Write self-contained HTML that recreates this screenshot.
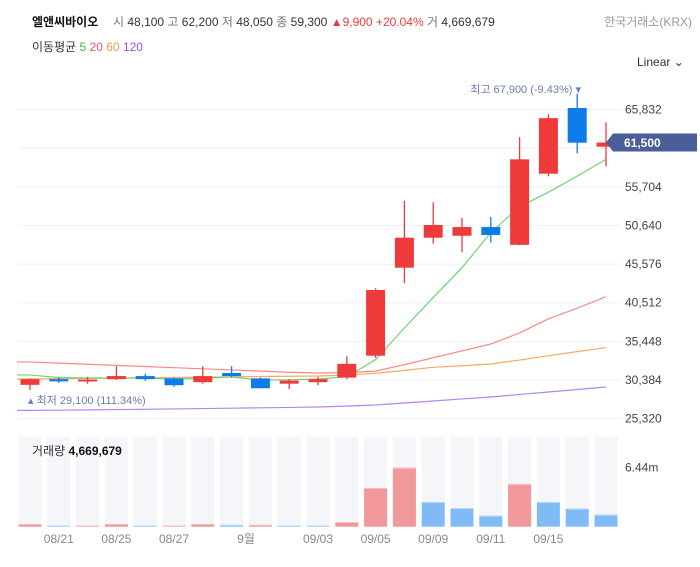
<!DOCTYPE html>
<html><head><meta charset="utf-8">
<style>
body{margin:0;width:700px;height:567px;background:#fff;overflow:hidden;font-family:"Liberation Sans","Noto Sans CJK KR",sans-serif;}
svg{position:absolute;left:0;top:0}
</style></head><body>
<svg id="chart" width="700" height="567" viewBox="0 0 700 567">
<g font-size="12">
<text x="32" y="26" font-weight="bold" fill="#111">엘앤씨바이오</text>
<text x="113" y="26" fill="#333"><tspan fill="#777">시</tspan> 48,100 <tspan fill="#777">고</tspan> 62,200 <tspan fill="#777">저</tspan> 48,050 <tspan fill="#777">종</tspan> 59,300<tspan fill="#e83c3c"> ▲9,900 +20.04%</tspan> <tspan fill="#777">거</tspan> 4,669,679</text>
<text x="692" y="26" fill="#999" text-anchor="end">한국거래소(KRX)</text>
<text x="32" y="51" fill="#333">이동평균 <tspan fill="#3cb83c">5</tspan> <tspan fill="#f0506e">20</tspan> <tspan fill="#f59a4a">60</tspan> <tspan fill="#8a55e6">120</tspan></text>
<text x="637" y="66" fill="#333">Linear ⌄</text>
</g>
<g id="grid"></g><g id="vol"></g><g id="ma"></g><g id="candles"></g><g id="labels"></g>
</svg>
<script>
const dates=["08/21","08/25","08/27","9월","09/03","09/05","09/09","09/11","09/15"];
const dateIdx=[1,3,5,7.5,10,12,14,16,18];
const open=[29750,30500,30200,30500,30900,30600,30100,31300,30600,29900,30100,30700,33570,45100,49030,49290,50430,48100,57420,66030,60960];
const high=[30600,30700,30800,32200,31200,30700,32200,32200,30700,30500,30800,33500,42400,53880,53670,51610,51750,62200,65200,67900,64150];
const low=[29100,30000,29900,30400,30300,29500,29900,30700,29300,29200,29700,30500,33300,43060,48250,47120,48420,48050,57080,60090,58390];
const close=[30500,30200,30450,30900,30500,29700,30900,30900,29300,30300,30500,32500,42180,49030,50700,50430,49390,59300,64700,61480,61500];
const volume=[0.3,0.07,0.07,0.3,0.07,0.07,0.3,0.2,0.2,0.07,0.07,0.51,4.22,6.44,2.7,2.04,1.2,4.67,2.7,1.98,1.31];
const volumeUp=[1,0,1,1,0,1,1,0,1,0,0,1,1,1,0,0,0,1,0,0,0];
const ma5=[31050,30700,30650,30650,30650,30520,30600,30780,30400,30400,30520,30800,33050,37200,41200,45100,49700,53100,55000,57100,59300];
const ma20=[32750,32600,32450,32300,32150,32000,31850,31700,31550,31400,31300,31350,31550,32400,33300,34200,35100,36550,38400,39800,41300];
const ma60=[30520,30560,30600,30640,30680,30720,30760,30800,30840,30880,30910,31040,31260,31650,32050,32250,32480,33000,33570,34100,34620];
const ma120=[26400,26430,26470,26510,26550,26590,26640,26690,26740,26790,26850,26960,27110,27370,27630,27900,28160,28490,28810,29140,29470];
const priceTicks=[65832,60768,55704,50640,45576,40512,35448,30384,25320];
const priceTickLabels=["65,832","","55,704","50,640","45,576","40,512","35,448","30,384","25,320"];
const NS="http://www.w3.org/2000/svg";
function X(i){return 30+28.8*i;}
function Y(v){return 109.5+(65832-v)*0.007631;}
function VY(v){return 526.7-v*59/6.44;}
function mk(p,t,a){const e=document.createElementNS(NS,t);for(const k in a)e.setAttribute(k,a[k]);p.appendChild(e);return e;}
const grid=document.getElementById('grid'),vol=document.getElementById('vol'),ma=document.getElementById('ma'),cg=document.getElementById('candles'),lb=document.getElementById('labels');
priceTicks.forEach((v,k)=>{
 const l=mk(grid,'line',{x1:18,x2:621,y1:Y(v),y2:Y(v),stroke:'#eef0f3','stroke-width':1});
 
 
 if(priceTickLabels[k]){const t=mk(grid,'text',{x:625,y:Y(v)+4,'font-size':12,fill:'#444'});t.textContent=priceTickLabels[k];
 
 }
});
volume.forEach((v,i)=>{
 const bg=mk(vol,'rect',{x:X(i)-11.5,y:436.7,width:23,height:90,fill:'#f5f6fa'});
 
 
 const up=volumeUp[i]===1;
 const h=Math.max(1,526.7-VY(v));
 const r=mk(vol,'rect',{x:X(i)-11.5,y:526.7-h,width:23,height:h,fill:up?'#f0989a':'#80bbf6'});
 
 
 const tp=mk(vol,'rect',{x:X(i)-11.5,y:526.7-h,width:23,height:1,fill:up?'#f7c0c2':'#b8d8fa'});
 
 
});
const vt=mk(vol,'text',{x:625,y:VY(6.44)+4,'font-size':12,fill:'#444'});vt.textContent='6.44m';


const vl=mk(vol,'text',{x:32,y:455,'font-size':12,fill:'#333'});vl.innerHTML='거래량 <tspan font-weight="bold" fill="#111">4,669,679</tspan>';


dates.forEach((d,k)=>{const t=mk(lb,'text',{x:X(dateIdx[k]),y:543,'font-size':12,fill:'#888','text-anchor':'middle'});t.textContent=d;
 
 });
[[ma120,'#b784f5','ma120-line'],[ma60,'#f8a866','ma60-line'],[ma20,'#f58a8a','ma20-line'],[ma5,'#6fd36f','ma5-line']].forEach(([arr,c,n])=>{
 let d='M'+(X(0)-13)+' '+Y(arr[0]);arr.forEach((v,i)=>d+=' L'+X(i)+' '+Y(v));
 const p=mk(ma,'path',{d:d,fill:'none',stroke:c,'stroke-width':1.2});
 
 
});
open.forEach((o,i)=>{
 const up=close[i]>=o,c=up?'#ee3a3a':'#0e7bea';
 const w=mk(cg,'line',{x1:X(i),x2:X(i),y1:Y(high[i]),y2:Y(low[i]),stroke:c,'stroke-width':1.3});
 
 
 const t=Y(Math.max(o,close[i])),b=Y(Math.min(o,close[i]));
 const r=mk(cg,'rect',{x:X(i)-9.5,y:t,width:19,height:Math.max(2,b-t),fill:c});
 
 
});
const last=close[close.length-1];
const tag=mk(lb,'path',{d:`M613 ${Y(last)-9} H697 V${Y(last)+9} H613 L606 ${Y(last)} Z`,fill:'#4a5e9a'});


const tt=mk(lb,'text',{x:624,y:Y(last)+4.5,'font-size':12,'font-weight':'bold',fill:'#fff'});tt.textContent='61,500';


const hi=mk(lb,'text',{x:581,y:93,'font-size':11,fill:'#6b7bb0','text-anchor':'end'});hi.textContent='최고 67,900 (-9.43%) ▾';


const lo=mk(lb,'text',{x:28,y:404,'font-size':11,fill:'#6b7bb0'});lo.textContent='▴ 최저 29,100 (111.34%)';


</script>
</body></html>
